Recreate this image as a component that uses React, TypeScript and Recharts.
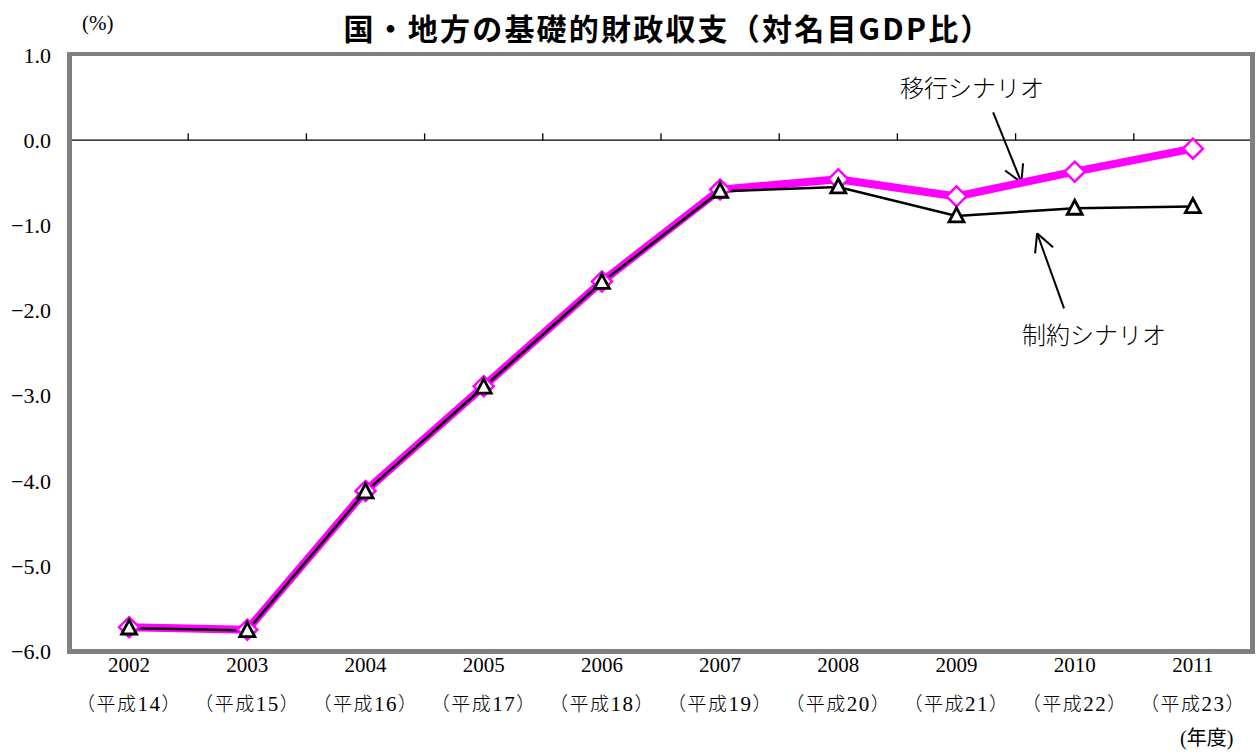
import React from 'react';
import {
  LineChart,
  Line,
  XAxis,
  YAxis,
  ReferenceLine,
} from 'recharts';

const years = ['2002', '2003', '2004', '2005', '2006', '2007', '2008', '2009', '2010', '2011'];
const heiseiNo = ['14', '15', '16', '17', '18', '19', '20', '21', '22', '23'];
// 移行シナリオ
const migration = [-5.72, -5.75, -4.12, -2.89, -1.66, -0.58, -0.46, -0.66, -0.37, -0.1];
// 制約シナリオ
const restricted = [-5.73, -5.76, -4.13, -2.9, -1.67, -0.6, -0.55, -0.89, -0.8, -0.78];
const yTicks = [1, 0, -1, -2, -3, -4, -5, -6];
const xTicks = [0, 1, 2, 3, 4, 5, 6, 7, 8, 9];
const bandEdges = [0.5, 1.5, 2.5, 3.5, 4.5, 5.5, 6.5, 7.5, 8.5];

const data = years.map((y, i) => ({
  idx: i,
  year: y,
  migration: migration[i],
  restricted: restricted[i],
}));

// annotation arrows, in (year index, value) coordinates
const arrows = [
  {
    from: { x: 7.31, y: 0.325 },
    tip: { x: 7.549, y: -0.496 },
    heads: [{ x: 7.411, y: -0.356 }, { x: 7.563, y: -0.273 }],
  },
  {
    from: { x: 7.91, y: -1.975 },
    tip: { x: 7.682, y: -1.095 },
    heads: [{ x: 7.665, y: -1.33 }, { x: 7.817, y: -1.259 }],
  },
];

const serif = '"Liberation Serif", "Noto Sans CJK JP", serif';
const cjk = '"Noto Sans CJK JP", sans-serif';
const W = 1256;
const H = 756;

const XTick = (props: any) => {
  const { x, y, payload } = props;
  const i = payload.value;
  return (
    <g>
      <text x={x} y={y + 21} textAnchor="middle" fontFamily={serif} fontSize={21} fill="#000">
        {years[i]}
      </text>
      <text x={x} y={y + 60} textAnchor="middle" fontSize={19} fill="#000" letterSpacing={1.5}>
        <tspan fontFamily={cjk} fontWeight={300}>（平成</tspan>
        <tspan fontFamily={serif} fontSize={21}>{heiseiNo[i]}</tspan>
        <tspan fontFamily={cjk} fontWeight={300}>）</tspan>
      </text>
    </g>
  );
};

const Diamond = (props: any) => {
  const { cx, cy } = props;
  if (cx == null || cy == null) return null;
  const r = 10;
  return (
    <polygon
      points={`${cx},${cy - r} ${cx + r},${cy} ${cx},${cy + r} ${cx - r},${cy}`}
      fill="#fff"
      stroke="#ff00ff"
      strokeWidth={2.5}
    />
  );
};

const Triangle = (props: any) => {
  const { cx, cy } = props;
  if (cx == null || cy == null) return null;
  return (
    <polygon
      points={`${cx},${cy - 8} ${cx + 7.5},${cy + 6} ${cx - 7.5},${cy + 6}`}
      fill="#fff"
      stroke="#000"
      strokeWidth={2.8}
      strokeLinejoin="miter"
    />
  );
};

const textBase: React.CSSProperties = {
  position: 'absolute',
  whiteSpace: 'nowrap',
  lineHeight: 1,
  color: '#000',
};

export default function App() {
  return (
    <div style={{ position: 'absolute', left: 0, top: 0, width: W, height: H, background: '#fff' }}>
      <div style={{ position: 'absolute', left: 0, top: 0 }}>
        <LineChart
          width={W}
          height={H}
          data={data}
          margin={{ top: 55, right: 4, bottom: 45, left: 0 }}
        >
          <XAxis
            dataKey="idx"
            type="number"
            domain={[-0.5, 9.5]}
            ticks={xTicks}
            allowDataOverflow
            axisLine={false}
            tickLine={false}
            tickSize={0}
            tickMargin={0}
            height={60}
            interval={0}
            tick={<XTick />}
          />
          <YAxis
            type="number"
            domain={[-6, 1]}
            ticks={yTicks}
            allowDataOverflow
            width={70}
            axisLine={false}
            tickLine={false}
            tickSize={8}
            tickMargin={11}
            tickFormatter={(v: number) => v.toFixed(1).replace('-', '−')}
            tick={{ fontFamily: serif, fontSize: 22, fill: '#000' }}
          />
          <ReferenceLine y={0} stroke="#000" strokeWidth={1.3} />
          {bandEdges.map((b) => (
            <ReferenceLine
              key={`edge-${b}`}
              segment={[{ x: b, y: 0 }, { x: b, y: 0.08 }]}
              stroke="#000"
              strokeWidth={1.3}
              ifOverflow="visible"
            />
          ))}
          {arrows.map((a, i) => (
            <ReferenceLine
              key={`arrow-${i}`}
              segment={[a.from, a.tip]}
              stroke="#000"
              strokeWidth={2}
              ifOverflow="visible"
            />
          ))}
          {arrows.map((a, i) =>
            a.heads.map((h, j) => (
              <ReferenceLine
                key={`head-${i}-${j}`}
                segment={[h, a.tip]}
                stroke="#000"
                strokeWidth={2}
                ifOverflow="visible"
              />
            ))
          )}
          <Line
            dataKey="migration"
            stroke="#ff00ff"
            strokeWidth={8}
            dot={<Diamond />}
            activeDot={false}
            isAnimationActive={false}
          />
          <Line
            dataKey="restricted"
            stroke="#000"
            strokeWidth={2.5}
            dot={<Triangle />}
            activeDot={false}
            isAnimationActive={false}
          />
        </LineChart>
      </div>
      {/* plot frame */}
      <div
        style={{
          position: 'absolute',
          left: 67,
          top: 52,
          width: 1255 - 67,
          height: 654 - 52,
          boxSizing: 'border-box',
          borderTop: '4.5px solid #808080',
          borderRight: '5px solid #808080',
          borderLeft: '5px solid #808080',
          borderBottom: '5px solid #808080',
          pointerEvents: 'none',
        }}
      />
      <div
        style={{
          ...textBase,
          left: 0,
          width: 1336,
          top: 12,
          textAlign: 'center',
          fontFamily: cjk,
          fontWeight: 700,
          fontSize: 30,
          letterSpacing: 2.2,
        }}
      >
        国・地方の基礎的財政収支（対名目GDP比）
      </div>
      <div style={{ ...textBase, left: 82, top: 13, fontFamily: serif, fontSize: 21 }}>(%)</div>
      <div style={{ ...textBase, left: 900, top: 75, fontFamily: cjk, fontSize: 24, fontWeight: 300 }}>
        移行シナリオ
      </div>
      <div style={{ ...textBase, left: 1022, top: 322, fontFamily: cjk, fontSize: 24, fontWeight: 300 }}>
        制約シナリオ
      </div>
      <div style={{ ...textBase, left: 1180, top: 728, fontFamily: serif, fontSize: 20 }}>(年度)</div>
    </div>
  );
}
